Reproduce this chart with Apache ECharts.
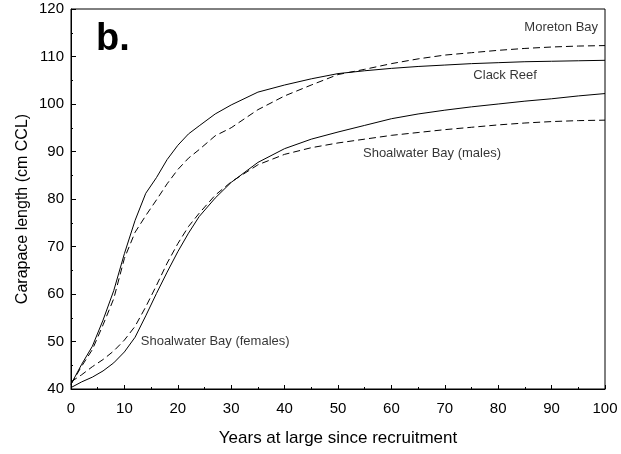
<!DOCTYPE html>
<html>
<head>
<meta charset="utf-8">
<script src="https://cdn.jsdelivr.net/npm/echarts@6/dist/echarts.min.js"></script>
<style>
html,body{margin:0;padding:0;background:#fff;}
#chart{width:621px;height:454px;}
</style>
</head>
<body>
<div id="chart"></div>
<script>
// Years at large since recruitment
var years = [0,2,4,6,8,10,12,14,16,18,20,22,24,27,30,35,40,45,50,55,60,65,70,75,80,85,90,95,100];
// Carapace length (cm CCL)
var clackReef     = [41,45.2,49,54.5,60.7,68.5,75.5,81.2,84.5,88.3,91.3,93.7,95.4,97.9,99.8,102.5,104,105.3,106.4,107,107.5,107.9,108.2,108.5,108.7,108.9,109,109.1,109.2];
var moretonBay    = [41,44.8,48.3,53.5,59,67.5,73,76.5,79.8,83.2,86.2,88.6,90.4,93.3,95,98.8,101.7,104,106.2,107.3,108.5,109.5,110.3,110.8,111.3,111.7,112,112.2,112.3];
var swbFemales    = [40.3,41.5,42.5,43.8,45.5,47.8,50.9,55.4,60.1,64.6,68.9,72.8,76.3,80.2,83.5,87.7,90.6,92.6,94.1,95.5,96.9,97.9,98.7,99.4,100,100.6,101.1,101.7,102.2];
var swbMales      = [41.5,43,44.7,46.2,48,50.3,53.2,57.3,61.8,66.5,70.6,74.2,77,80.8,83.6,87.2,89.4,90.8,91.8,92.6,93.4,94,94.6,95.1,95.6,96,96.3,96.5,96.6];
var xTicks = [0,10,20,30,40,50,60,70,80,90,100];
var yTicks = [40,50,60,70,80,90,100,110,120];
// annotation text and anchor (data units)
var labelNames = ['Moreton Bay','Clack Reef','Shoalwater Bay (males)','Shoalwater Bay (females)'];
var labelX = [91.8, 81.3, 67.6, 27];
var labelY = [116.2, 106.1, 89.5, 50];

var FONT = "'Liberation Sans', Arial, Helvetica, sans-serif";
function pairs(xs, ys){ return xs.map(function(x,i){ return [x, ys[i]]; }); }
function lineSeries(name, vals, dashed){
  return {
    name: name, type: 'line', data: pairs(years, vals),
    showSymbol: false, symbol: 'none', smooth: false,
    lineStyle: { color: '#000', width: 1, type: dashed ? [7,4] : 'solid' },
    z: 3, silent: true
  };
}
var chart = echarts.init(document.getElementById('chart'), null, {renderer: 'canvas'});
chart.setOption({
  animation: false,
  backgroundColor: '#fff',
  grid: { left: 71, right: 16, top: 9, bottom: 65, show: true, borderColor: '#000', borderWidth: 1, backgroundColor: 'transparent' },
  xAxis: {
    type: 'value', min: xTicks[0], max: xTicks[xTicks.length-1], interval: 10,
    axisLine: { lineStyle: { color: '#000', width: 1 } },
    axisTick: { inside: true, length: 4, lineStyle: { color: '#000' } },
    minorTick: { show: true, splitNumber: 2, length: 2, lineStyle: { color: '#000' } },
    splitLine: { show: false },
    axisLabel: { color: '#000', fontFamily: FONT, fontSize: 15, margin: 12 }
  },
  yAxis: {
    type: 'value', min: yTicks[0], max: yTicks[yTicks.length-1], interval: 10,
    axisLine: { show: true, lineStyle: { color: '#000', width: 1 } },
    axisTick: { show: true, inside: true, length: 5, lineStyle: { color: '#000' } },
    minorTick: { show: true, splitNumber: 2, length: 2, lineStyle: { color: '#000' } },
    splitLine: { show: false },
    axisLabel: { color: '#000', fontFamily: FONT, fontSize: 15, margin: 7 }
  },
  series: [
    lineSeries('Clack Reef', clackReef, false),
    lineSeries('Moreton Bay', moretonBay, true),
    lineSeries('Shoalwater Bay (females)', swbFemales, false),
    lineSeries('Shoalwater Bay (males)', swbMales, true),
    {
      type: 'scatter', symbolSize: 0, silent: true,
      data: labelNames.map(function(n,i){ return { name: n, value: [labelX[i], labelY[i]] }; }),
      label: { show: true, position: 'inside', formatter: '{b}', color: '#000', fontFamily: FONT, fontSize: 13 }
    }
  ],
  graphic: [
    { type: 'text', left: 96, top: 21, style: { text: 'b.', font: "bold 38px " + FONT, fill: '#000' } },
    { type: 'text', x: 23, y: 209, rotation: Math.PI/2, style: { text: 'Carapace length (cm CCL)', font: "16px " + FONT, fill: '#000', textAlign: 'center', textVerticalAlign: 'middle' } },
    { type: 'text', x: 338, y: 438, style: { text: 'Years at large since recruitment', font: "17px " + FONT, fill: '#000', textAlign: 'center', textVerticalAlign: 'middle' } }
  ]
});
</script>
</body>
</html>
